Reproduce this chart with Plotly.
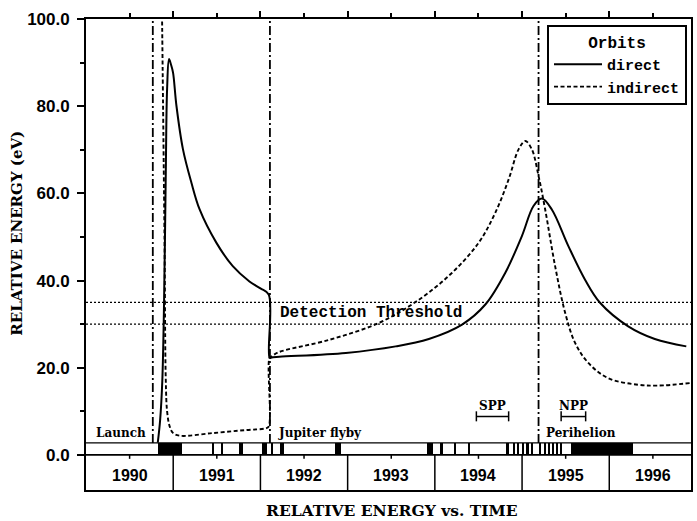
import plotly.graph_objects as go

# ---------------- data ----------------
direct_year = [1990.823, 1990.85, 1990.875, 1990.895, 1990.915, 1990.93, 1990.952,
               1990.975, 1990.998, 1991.037, 1991.112, 1991.208, 1991.303, 1991.494,
               1991.683, 1991.874, 1992.0, 1992.095, 1992.105, 1992.13, 1992.217,
               1992.979, 1993.551, 1993.931, 1994.312, 1994.579, 1994.808, 1994.998,
               1995.131, 1995.226, 1995.341, 1995.531, 1995.722, 1995.894, 1996.217,
               1996.522, 1996.883]
direct_energy = [2.8, 8.0, 17.0, 35.0, 65.0, 84.0, 90.8,
                 89.5, 87.7, 80.1, 70.1, 62.5, 56.3, 48.7,
                 43.3, 39.8, 38.2, 36.8, 22.3, 22.35, 22.5,
                 23.4, 24.9, 26.6, 29.9, 34.5, 41.8, 50.2,
                 57.1, 58.8, 56.3, 47.9, 40.2, 34.9, 29.5,
                 26.6, 24.9]

indirect_year = [1990.870, 1990.9, 1990.915, 1990.93, 1990.96, 1991.0, 1991.08,
                 1991.45, 1991.83, 1992.06, 1992.095, 1992.105, 1992.13, 1992.2,
                 1992.789, 1993.36, 1993.817, 1994.198, 1994.503, 1994.694, 1994.846,
                 1994.96, 1995.037, 1995.112, 1995.189, 1995.265, 1995.379, 1995.494,
                 1995.608, 1995.76, 1995.989, 1996.331, 1996.56, 1996.937]
indirect_energy = [104.0, 50.0, 17.0, 10.0, 6.5, 5.0, 4.4,
                   5.0, 5.7, 6.1, 6.5, 22.3, 22.6, 23.5,
                   26.4, 30.3, 35.6, 41.8, 48.7, 55.6, 63.2,
                   70.1, 72.0, 70.1, 64.0, 56.3, 43.3, 32.6,
                   25.7, 21.1, 17.6, 16.1, 15.9, 16.5]

threshold_levels = [30.0, 35.0]
threshold_label = "Detection Threshold"

event_names = ["Launch", "Jupiter flyby", "Perihelion"]
event_year = [1990.766, 1992.109, 1995.189]

pass_names = ["SPP", "NPP"]
pass_start = [1994.476, 1995.448]
pass_end = [1994.846, 1995.729]

strip_start = [1990.82, 1991.445, 1991.55, 1991.75, 1992.02, 1992.125, 1992.22,
               1992.865, 1992.90, 1993.905, 1994.07, 1994.225, 1994.38, 1994.815,
               1994.905, 1994.95, 1995.0, 1995.05, 1995.11, 1995.20, 1995.255,
               1995.305, 1995.35, 1995.39, 1995.44, 1995.562]
strip_end = [1991.10, 1991.465, 1991.575, 1991.80, 1992.08, 1992.14, 1992.27,
             1992.885, 1992.92, 1993.98, 1994.09, 1994.245, 1994.40, 1994.85,
             1994.92, 1994.965, 1995.015, 1995.075, 1995.125, 1995.215, 1995.27,
             1995.32, 1995.365, 1995.405, 1995.455, 1996.274]

years = [1990, 1991, 1992, 1993, 1994, 1995, 1996]
y_tick_vals = [0, 20, 40, 60, 80, 100]
y_tick_text = ["0.0", "20.0", "40.0", "60.0", "80.0", "100.0"]
y_minor_vals = [10, 30, 50, 70, 90]

# ---------------- layout constants ----------------
X_MIN, X_MAX = 1990.0, 1996.937
Y_MIN, Y_MAX = -8.05, 100.0
STRIP_TOP = 2.76
YEAR_LABEL_Y = -4.8

SERIF = "DejaVu Serif"
MONO = "Liberation Mono"
SANS = "Liberation Sans"

fig = go.Figure()

# availability strip (black bars)
fig.add_trace(go.Bar(
    x=[(s + e) / 2 for s, e in zip(strip_start, strip_end)],
    y=[STRIP_TOP] * len(strip_start),
    width=[e - s for s, e in zip(strip_start, strip_end)],
    base=0,
    marker=dict(color="black", line=dict(width=0)),
    showlegend=False, hoverinfo="skip",
))

fig.add_trace(go.Scatter(
    x=direct_year, y=direct_energy, mode="lines", name="direct",
    line=dict(color="black", width=2, shape="spline", smoothing=1.0),
))
fig.add_trace(go.Scatter(
    x=indirect_year, y=indirect_energy, mode="lines", name="indirect",
    line=dict(color="black", width=1.9, dash="4px,2.5px", shape="spline", smoothing=1.0),
))

shapes = []
annotations = []

# threshold lines
for lv in threshold_levels:
    shapes.append(dict(type="line", xref="paper", yref="y", x0=0, x1=1, y0=lv, y1=lv,
                       line=dict(color="black", width=1.3, dash="2px,2px")))
annotations.append(dict(x=1992.2, y=sum(threshold_levels) / 2, xref="x", yref="y",
                        text=threshold_label, showarrow=False, xanchor="left",
                        yanchor="middle",
                        font=dict(family=MONO, size=16, color="black", weight="bold")))

# event lines + labels
for name, ex in zip(event_names, event_year):
    shapes.append(dict(type="line", xref="x", yref="y", x0=ex, x1=ex,
                       y0=STRIP_TOP, y1=Y_MAX,
                       line=dict(color="black", width=1.8, dash="9px,3px,2px,3px")))
    if name == "Launch":
        annotations.append(dict(x=ex - 0.055, y=5.0, xref="x", yref="y", text=name,
                                showarrow=False, xanchor="right", yanchor="middle",
                                font=dict(family=SERIF, size=12, color="black",
                                          weight="bold")))
    else:
        annotations.append(dict(x=ex + 0.067, y=5.0, xref="x", yref="y", text=name,
                                showarrow=False, xanchor="left", yanchor="middle",
                                font=dict(family=SERIF, size=12, color="black",
                                          weight="bold")))

# SPP / NPP brackets
for name, s, e in zip(pass_names, pass_start, pass_end):
    shapes.append(dict(type="line", xref="x", yref="y", x0=s, x1=e, y0=8.8, y1=8.8,
                       line=dict(color="black", width=1.5)))
    for xx in (s, e):
        shapes.append(dict(type="line", xref="x", yref="y", x0=xx, x1=xx,
                           y0=7.7, y1=10.0, line=dict(color="black", width=1.5)))
    annotations.append(dict(x=(s + e) / 2, y=11.3, xref="x", yref="y", text=name,
                            showarrow=False, xanchor="center", yanchor="middle",
                            font=dict(family=SERIF, size=12, color="black",
                                      weight="bold")))

# strip outline and zero line
shapes.append(dict(type="line", xref="paper", yref="y", x0=0, x1=1,
                   y0=STRIP_TOP, y1=STRIP_TOP, line=dict(color="black", width=1.3)))
shapes.append(dict(type="line", xref="paper", yref="y", x0=0, x1=1,
                   y0=0, y1=0, line=dict(color="black", width=1.8)))

# year cells
for yr in years:
    if yr > years[0]:
        shapes.append(dict(type="line", xref="x", yref="y", x0=yr, x1=yr,
                           y0=Y_MIN, y1=0, line=dict(color="black", width=1.5)))
    shapes.append(dict(type="line", xref="x", yref="y", x0=yr + 0.5, x1=yr + 0.5,
                       y0=0, y1=-0.9, line=dict(color="black", width=1.5)))
    annotations.append(dict(x=yr + 0.5, y=YEAR_LABEL_Y, xref="x", yref="y",
                            text=str(yr), showarrow=False, xanchor="center",
                            yanchor="middle",
                            font=dict(family=SANS, size=16, color="black",
                                      weight="bold")))

# axis titles
annotations.append(dict(x=-0.1137, y=0.5446, xref="paper", yref="paper",
                        text="RELATIVE ENERGY (eV)", textangle=-90, showarrow=False,
                        xanchor="center", yanchor="middle",
                        font=dict(family=SERIF, size=15, color="black", weight="bold")))
annotations.append(dict(x=0.505, y=-0.044, xref="paper", yref="paper",
                        text="RELATIVE ENERGY vs. TIME", showarrow=False,
                        xanchor="center", yanchor="middle",
                        font=dict(family=SERIF, size=15.5, color="black",
                                  weight="bold")))

fig.update_layout(
    width=697, height=521,
    margin=dict(l=86, r=4, t=19, b=31),
    paper_bgcolor="white", plot_bgcolor="white",
    shapes=shapes, annotations=annotations,
    bargap=0,
    xaxis=dict(
        range=[X_MIN, X_MAX], side="top", showgrid=False, zeroline=False,
        showline=True, linecolor="black", linewidth=1.8, mirror=True,
        tickmode="array", tickvals=years[1:], ticks="outside", ticklen=6,
        tickwidth=1.5, tickcolor="black", showticklabels=False,
        minor=dict(tickmode="array", tickvals=[y + 0.5 for y in years],
                   ticks="outside", ticklen=4, tickwidth=1.5, tickcolor="black"),
    ),
    yaxis=dict(
        range=[Y_MIN, Y_MAX], showgrid=False, zeroline=False,
        showline=True, linecolor="black", linewidth=1.8, mirror=True,
        tickmode="array", tickvals=y_tick_vals, ticktext=y_tick_text,
        ticks="outside", ticklen=7, tickwidth=1.5, tickcolor="black",
        ticklabelstandoff=4,
        tickfont=dict(family=SANS, size=17, color="black", weight="bold"),
        minor=dict(tickmode="array", tickvals=y_minor_vals, ticks="outside",
                   ticklen=4, tickwidth=1.5, tickcolor="black"),
    ),
    legend=dict(
        x=0.9934, y=0.987, xanchor="right", yanchor="top",
        bgcolor="white", bordercolor="black", borderwidth=2,
        font=dict(family=MONO, size=15, color="black", weight="bold"),
        title=dict(text="Orbits", side="top center",
                   font=dict(family=MONO, size=16, color="black", weight="bold")),
        tracegroupgap=0, itemwidth=48,
    ),
    showlegend=True,
)

fig.write_html("out.html")
